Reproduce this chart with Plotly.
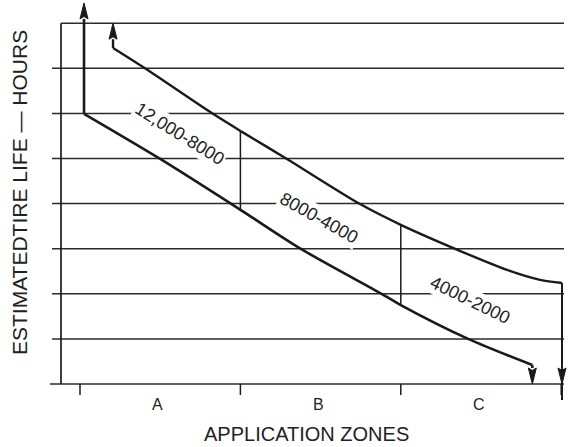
import numpy as np
import plotly.graph_objects as go

# ---------------- data (schematic units: x = application zone, y = grid level) ----------------
zone_bounds = [0, 1, 2, 3]
zone_labels = ["A", "B", "C"]
grid_levels = [0, 1, 2, 3, 4, 5, 6, 7, 8]

lower_x = [0.025, 0.50, 1.01, 1.38, 1.88, 2.00, 2.42, 2.82]
lower_y = [5.99, 4.99, 3.84, 2.99, 2.00, 1.75, 1.00, 0.42]
lower_rise_to = 8.45   # arrow going up from start of lower curve
lower_drop_to = 0.0    # arrow going down at end of lower curve

upper_x = [0.206, 0.405, 0.829, 1.01, 1.29, 1.746, 2.00, 2.357, 2.662, 2.868, 3.005]
upper_y = [7.45, 7.00, 5.99, 5.59, 4.99, 3.99, 3.53, 2.97, 2.53, 2.31, 2.24]
upper_rise_to = 8.0
upper_drop_to = 0.0

band_labels = ["12,000-8000", "8000-4000", "4000-2000"]

y_title = "ESTIMATEDTIRE LIFE \u2014 HOURS"
x_title = "APPLICATION ZONES"

# ---------------- layout helpers ----------------
W, H = 571, 447
PX_PER_X = 160.4
PX_PER_Y = 45.1
X0_PX, Y0_PX = 80, 384
x_range = [-X0_PX / PX_PER_X, (W - X0_PX) / PX_PER_X]
y_range = [-(H - Y0_PX) / PX_PER_Y, Y0_PX / PX_PER_Y]

INK = "#1a1a1a"
GRID = "#2b2b2b"
TEXT = "#222222"
FONT = "Liberation Sans, Arial, sans-serif"

fig = go.Figure()


def line_trace(x, y, width, color=INK, spline=False):
    ln = dict(color=color, width=width)
    if spline:
        ln.update(shape="spline", smoothing=0.8)
    return go.Scatter(x=x, y=y, mode="lines", line=ln, hoverinfo="skip", showlegend=False)


# horizontal grid lines (top one starts at the axis line, the rest stick out a little)
ax_x = -19 / PX_PER_X
gx_left, gx_right = -28 / PX_PER_X, 484 / PX_PER_X
gx, gy = [], []
for g in grid_levels:
    left = ax_x if g == grid_levels[-1] else (gx_left - 2 / PX_PER_X if g == grid_levels[0] else gx_left)
    gx += [left, gx_right, None]
    gy += [g, g, None]
fig.add_trace(line_trace(gx, gy, 1.5, GRID))

# left vertical axis line
fig.add_trace(line_trace([ax_x, ax_x], [grid_levels[0], grid_levels[-1]], 1.7))

# zone tick marks below axis
tick_len = 11 / PX_PER_Y
tx, ty = [], []
for b in zone_bounds:
    tx += [b, b, None]
    ty += [grid_levels[0], grid_levels[0] - tick_len, None]
fig.add_trace(line_trace(tx, ty, 1.5))

# zone separators between the curves
sx, sy = [], []
for b in zone_bounds[1:-1]:
    sx += [b, b, None]
    sy += [float(np.interp(b, lower_x, lower_y)), float(np.interp(b, upper_x, upper_y)), None]
fig.add_trace(line_trace(sx, sy, 1.5))

head_len = 16 / PX_PER_Y
head_hw = 4 / PX_PER_X

# lower curve and its vertical legs
fig.add_trace(line_trace(lower_x, lower_y, 2.6, spline=True))
fig.add_trace(line_trace([lower_x[0], lower_x[0]], [lower_y[0], lower_rise_to - head_len], 2.6))
fig.add_trace(line_trace([lower_x[-1], lower_x[-1]], [lower_y[-1], lower_drop_to + head_len], 2.6))

# upper curve and its vertical legs
fig.add_trace(line_trace(upper_x, upper_y, 2.4, spline=True))
fig.add_trace(line_trace([upper_x[0], upper_x[0]], [upper_y[0], upper_rise_to - head_len], 2.4))
fig.add_trace(line_trace([upper_x[-1], upper_x[-1]], [upper_y[-1], upper_drop_to - 16 / PX_PER_Y], 2.0))


def arrow_head(x_tip, y_tip, direction):
    base = y_tip - direction * head_len
    return go.Scatter(x=[x_tip - head_hw, x_tip, x_tip + head_hw, x_tip, x_tip - head_hw],
                      y=[base, y_tip, base, base + direction * head_len * 0.15, base],
                      mode="lines", fill="toself", fillcolor=INK, line=dict(color=INK, width=1),
                      hoverinfo="skip", showlegend=False)


fig.add_trace(arrow_head(lower_x[0], lower_rise_to, 1))
fig.add_trace(arrow_head(upper_x[0], upper_rise_to, 1))
fig.add_trace(arrow_head(lower_x[-1], lower_drop_to, -1))
fig.add_trace(arrow_head(upper_x[-1], upper_drop_to, -1))

annotations = []
# zone letters
for i, lab in enumerate(zone_labels):
    annotations.append(dict(x=(zone_bounds[i] + zone_bounds[i + 1]) / 2 - 0.015, y=-20 / PX_PER_Y, text=lab,
                            showarrow=False, font=dict(family=FONT, size=16, color=TEXT),
                            xanchor="center", yanchor="middle"))

# band labels along the curves
label_pos = [(0.623, 5.54, 32), (1.49, 3.68, 29), (2.431, 1.86, 26)]
for lab, (lx_, ly_, ang) in zip(band_labels, label_pos):
    annotations.append(dict(x=lx_, y=ly_, text=lab, showarrow=False, textangle=ang,
                            font=dict(family=FONT, size=18, color=TEXT),
                            bgcolor="white", borderpad=1, xanchor="center", yanchor="middle"))

# axis titles
annotations.append(dict(x=306 / W, y=1 - 434 / H, xref="paper", yref="paper", text=x_title,
                        showarrow=False, font=dict(family=FONT, size=20, color=TEXT),
                        xanchor="center", yanchor="middle"))
annotations.append(dict(x=19 / W, y=1 - 193 / H, xref="paper", yref="paper", text=y_title,
                        showarrow=False, textangle=-90, font=dict(family=FONT, size=21, color=TEXT),
                        xanchor="center", yanchor="middle"))

fig.update_layout(
    width=W, height=H,
    margin=dict(l=0, r=0, t=0, b=0),
    paper_bgcolor="white", plot_bgcolor="white",
    xaxis=dict(range=x_range, visible=False, fixedrange=True),
    yaxis=dict(range=y_range, visible=False, fixedrange=True),
    annotations=annotations,
    showlegend=False,
)

fig.write_html("out.html", config={"displayModeBar": False},
               post_script="document.body.style.margin='0';document.body.style.overflow='hidden';")
